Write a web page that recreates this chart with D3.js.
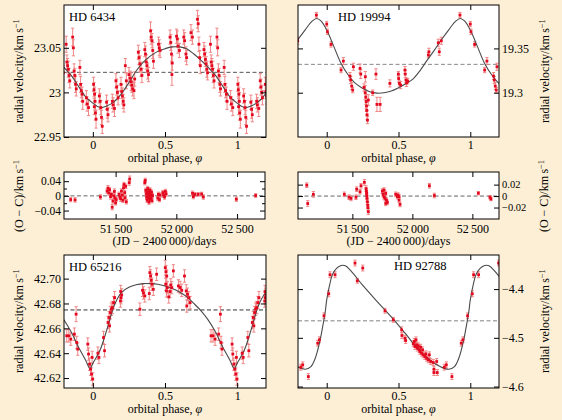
<!DOCTYPE html>
<html><head><meta charset="utf-8">
<script src="https://cdn.jsdelivr.net/npm/d3@7"></script>
<style>
body{margin:0;background:#fcefd5;}
svg{display:block;}
text{font-family:"Liberation Serif","DejaVu Serif",serif;}
</style>
</head><body>
<svg id="c" width="562" height="420"></svg>
<script>
// ---------------- DATA ----------------
const phaseTicks = [0, 0.5, 1];
const jdTicks = [51500, 52000, 52500];

// [phase, rv (km/s), error]
const hd6434 = [
[0.005,23.009,0.008],[0.008,23.003,0.008],[0.012,22.998,0.008],[0.015,22.990,0.01],[0.010,22.984,0.009],[0.018,22.977,0.008],[0.022,22.970,0.01],
[0.045,22.996,0.008],[0.050,22.990,0.009],[0.055,22.983,0.008],[0.060,22.972,0.008],[0.065,22.962,0.008],
[0.095,22.989,0.008],[0.100,22.981,0.01],[0.105,22.975,0.008],
[0.135,22.990,0.008],[0.140,22.986,0.008],[0.150,22.982,0.009],
[0.160,23.013,0.008],[0.165,23.006,0.009],[0.170,23.000,0.008],[0.175,22.994,0.008],
[0.195,23.009,0.008],[0.200,23.001,0.008],[0.205,22.996,0.009],[0.210,22.990,0.008],[0.215,22.986,0.008],
[0.225,23.030,0.008],[0.232,23.013,0.009],
[0.250,23.020,0.008],[0.258,23.016,0.008],[0.265,23.012,0.01],[0.270,23.008,0.008],[0.276,23.004,0.008],[0.285,23.002,0.009],[0.290,23.015,0.008],
[0.315,23.045,0.008],[0.320,23.039,0.008],[0.326,23.032,0.009],[0.334,23.026,0.008],[0.340,23.019,0.008],
[0.360,23.048,0.008],[0.365,23.043,0.009],[0.370,23.034,0.008],[0.375,23.030,0.008],[0.380,23.024,0.009],[0.386,23.020,0.008],
[0.400,23.069,0.01],[0.404,23.062,0.008],[0.410,23.058,0.008],[0.415,23.047,0.009],[0.420,23.035,0.008],
[0.455,23.054,0.008],[0.460,23.050,0.009],[0.466,23.047,0.008],
[0.535,23.062,0.008],[0.540,23.056,0.009],[0.545,23.043,0.008],[0.550,23.033,0.008],[0.548,23.020,0.012],
[0.580,23.063,0.008],[0.585,23.060,0.009],[0.590,23.052,0.008],[0.600,23.047,0.008],
[0.630,23.062,0.008],[0.636,23.058,0.009],[0.645,23.043,0.008],[0.650,23.039,0.008],
[0.680,23.067,0.009],[0.690,23.062,0.008],
[0.725,23.082,0.01],[0.730,23.077,0.009],[0.735,23.054,0.008],[0.740,23.039,0.008],[0.745,23.030,0.009],
[0.770,23.048,0.008],[0.775,23.043,0.009],[0.780,23.037,0.008],[0.785,23.032,0.008],[0.790,23.026,0.009],[0.795,23.022,0.008],
[0.815,23.054,0.009],[0.820,23.034,0.008],[0.825,23.030,0.008],[0.830,23.026,0.009],[0.835,23.019,0.008],[0.840,23.013,0.008],
[0.860,23.062,0.01],[0.865,23.050,0.009],[0.870,23.024,0.008],[0.875,23.019,0.008],[0.880,23.009,0.009],[0.885,23.004,0.008],
[0.910,23.028,0.008],[0.915,23.009,0.009],[0.920,23.002,0.008],[0.925,22.998,0.008],[0.930,22.990,0.009],
[0.955,22.994,0.008],[0.960,22.987,0.008],[0.970,22.983,0.009]
];
const hd6434Fit = [
[0.00,22.988],[0.05,22.983],[0.10,22.985],[0.15,22.990],[0.20,22.999],[0.25,23.011],[0.30,23.024],[0.35,23.034],
[0.40,23.041],[0.45,23.046],[0.50,23.049],[0.55,23.051],[0.60,23.051],[0.65,23.049],[0.70,23.043],[0.75,23.036],
[0.80,23.028],[0.85,23.019],[0.90,23.007],[0.95,22.995]
];
const hd6434Gamma = 23.0225;

const hd19994 = [
[0.928,19.3876,0.003],[0.000,19.3775,0.003],[0.005,19.3688,0.003],[0.030,19.3545,0.003],
[0.100,19.3256,0.003],[0.116,19.3357,0.004],[0.162,19.3188,0.004],[0.167,19.3143,0.004],
[0.174,19.3075,0.004],[0.181,19.3030,0.003],[0.186,19.3293,0.004],
[0.232,19.3274,0.005],[0.237,19.3210,0.005],[0.260,19.3060,0.004],[0.269,19.3180,0.006],
[0.268,19.3000,0.008],[0.272,19.2950,0.008],[0.275,19.2900,0.008],[0.277,19.2850,0.006],[0.279,19.2800,0.005],
[0.281,19.2750,0.005],[0.284,19.2690,0.004],[0.290,19.2917,0.006],
[0.320,19.3000,0.003],[0.343,19.3210,0.006],[0.350,19.2868,0.008],[0.372,19.2868,0.008],
[0.440,19.3105,0.004],[0.499,19.3210,0.003],[0.501,19.3160,0.004],[0.506,19.3105,0.003],[0.515,19.3086,0.004],
[0.545,19.3256,0.004],[0.547,19.3210,0.004],[0.552,19.3143,0.003],[0.556,19.3110,0.004],[0.564,19.3131,0.003],
[0.708,19.3425,0.003],[0.712,19.3462,0.004],[0.777,19.3564,0.004],[0.784,19.3462,0.004],[0.798,19.3586,0.004]
];
const hd19994Fit = [
[0.00,19.3707],[0.05,19.352],[0.10,19.333],[0.15,19.320],[0.20,19.3105],[0.25,19.305],[0.30,19.301],[0.35,19.2995],
[0.40,19.300],[0.45,19.302],[0.50,19.3056],[0.55,19.310],[0.60,19.3154],[0.65,19.325],[0.70,19.3368],[0.75,19.348],
[0.80,19.360],[0.85,19.371],[0.90,19.381],[0.93,19.3838],[0.96,19.381]
];
const hd19994Gamma = 19.332;

const hd65216 = [
[0.977,42.6312,0.005],[0.984,42.6272,0.005],[0.991,42.6232,0.005],[0.999,42.6192,0.005],[0.995,42.6366,0.005],
[0.965,42.6473,0.005],[0.970,42.6393,0.005],[0.035,42.640,0.005],[0.042,42.6366,0.005],[0.074,42.6526,0.005],
[0.081,42.642,0.005],[0.105,42.6647,0.005],[0.112,42.6687,0.005],[0.116,42.662,0.005],[0.121,42.6727,0.005],
[0.128,42.6754,0.005],[0.135,42.6767,0.005],[0.144,42.6807,0.005],[0.151,42.6847,0.005],[0.191,42.682,0.005],
[0.195,42.6847,0.005],[0.200,42.6869,0.005],[0.193,42.6896,0.005],[0.326,42.6754,0.005],[0.344,42.6906,0.005],
[0.351,42.6885,0.005],[0.360,42.6861,0.005],[0.395,42.7048,0.005],[0.400,42.7021,0.005],[0.405,42.6987,0.005],
[0.409,42.6955,0.005],[0.391,42.688,0.005],[0.419,42.6914,0.005],[0.442,42.7035,0.005],[0.502,42.7088,0.006],
[0.507,42.7056,0.005],[0.512,42.7021,0.005],[0.505,42.6955,0.005],[0.516,42.6928,0.005],[0.510,42.6901,0.005],
[0.526,42.6853,0.005],[0.540,42.6949,0.005],[0.547,42.6928,0.005],[0.535,42.6896,0.005],[0.558,42.7062,0.005],
[0.593,42.6941,0.005],[0.605,42.6928,0.005],[0.616,42.6906,0.005],[0.635,42.7021,0.005],[0.647,42.6901,0.005],
[0.656,42.6874,0.005],[0.665,42.6847,0.005],[0.674,42.6807,0.005],[0.651,42.678,0.005],[0.819,42.654,0.005],
[0.833,42.654,0.005],[0.847,42.6513,0.005],[0.872,42.6553,0.005],[0.884,42.6714,0.006],[0.888,42.6486,0.005],
[0.895,42.6433,0.005]
];
const hd65216Fit = [
[0.00,42.6318],[0.05,42.6425],[0.10,42.6600],[0.15,42.6790],[0.20,42.6890],[0.25,42.6930],[0.30,42.6950],
[0.35,42.6960],[0.40,42.6960],[0.45,42.6955],[0.50,42.6941],[0.55,42.6920],[0.60,42.6893],[0.65,42.6855],
[0.70,42.6800],[0.75,42.6740],[0.80,42.6666],[0.85,42.6570],[0.90,42.6450],[0.95,42.6344],[0.98,42.6277]
];
const hd65216Gamma = 42.6748;

const hd92788 = [
[0.819,-4.5603,0.006],[0.833,-4.5555,0.006],[0.872,-4.5795,0.006],[0.937,-4.511,0.006],[0.949,-4.504,0.006],
[0.981,-4.4548,0.006],[0.014,-4.4096,0.006],[0.023,-4.3705,0.006],[0.058,-4.3705,0.006],[0.197,-4.3466,0.006],
[0.213,-4.3829,0.005],[0.251,-4.3568,0.006],[0.406,-4.4445,0.005],[0.464,-4.463,0.005],[0.522,-4.4836,0.006],
[0.524,-4.4952,0.006],[0.545,-4.5007,0.006],[0.550,-4.5055,0.006],
[0.603,-4.5123,0.006],[0.610,-4.5075,0.006],[0.615,-4.5178,0.006],[0.622,-4.5041,0.006],[0.626,-4.5144,0.006],
[0.631,-4.5212,0.006],[0.638,-4.5164,0.006],[0.645,-4.5247,0.006],[0.650,-4.5281,0.006],[0.654,-4.5192,0.006],
[0.661,-4.5315,0.006],[0.668,-4.5247,0.006],[0.673,-4.5349,0.006],[0.684,-4.5384,0.006],[0.691,-4.5329,0.006],
[0.696,-4.5418,0.006],[0.708,-4.5452,0.006],[0.715,-4.5349,0.006],[0.724,-4.5486,0.006],[0.742,-4.5507,0.006],
[0.747,-4.5644,0.006],[0.747,-4.5713,0.006],[0.766,-4.5486,0.006],[0.770,-4.5713,0.006]
];
const hd92788Fit = [
[0.00,-4.422],[0.02,-4.392],[0.04,-4.370],[0.07,-4.357],[0.10,-4.3515],[0.13,-4.352],[0.17,-4.363],[0.25,-4.392],
[0.35,-4.425],[0.45,-4.457],[0.55,-4.492],[0.65,-4.528],[0.72,-4.546],[0.79,-4.559],[0.85,-4.5645],[0.89,-4.559],
[0.92,-4.542],[0.95,-4.510],[0.97,-4.480],[0.99,-4.446]
];
const hd92788Gamma = -4.465;

// residuals: [JD-2400000, O-C (km/s), error]
const hd6434Res = [
[51130,-0.010,0.006],[51166,-0.011,0.006],[51375,-0.003,0.006],
[51430,0.013,0.006],[51437,0.021,0.007],[51444,0.008,0.006],[51450,0.017,0.006],[51458,-0.002,0.007],[51465,0.004,0.006],
[51472,-0.031,0.007],[51478,-0.014,0.006],[51486,0.000,0.006],[51490,0.012,0.007],[51495,-0.006,0.006],[51500,-0.019,0.006],[51505,-0.010,0.006],
[51528,0.004,0.006],[51535,-0.003,0.006],[51541,-0.008,0.007],[51548,0.013,0.006],[51555,0.002,0.006],[51560,-0.012,0.006],
[51565,0.022,0.007],[51569,0.031,0.006],[51575,0.009,0.006],[51578,-0.005,0.006],[51583,0.026,0.006],[51588,-0.016,0.006],
[51612,0.036,0.007],[51616,0.046,0.008],[51740,0.036,0.006],[51744,0.042,0.006],
[51748,0.015,0.006],[51752,0.005,0.006],[51755,-0.004,0.006],[51758,0.010,0.007],[51760,-0.012,0.006],[51764,0.020,0.006],
[51766,0.002,0.006],[51770,-0.007,0.006],[51772,0.012,0.006],[51775,-0.017,0.006],[51778,0.006,0.006],[51780,-0.002,0.007],
[51783,0.016,0.006],[51786,-0.010,0.006],[51790,0.003,0.006],[51793,-0.005,0.006],[51796,0.010,0.006],[51800,-0.013,0.006],[51804,0.001,0.006],
[51847,-0.006,0.006],[51852,0.004,0.006],[51861,-0.010,0.006],[51866,0.002,0.006],
[51889,0.009,0.006],[51895,0.002,0.006],[51903,-0.003,0.006],[51910,0.012,0.006],[51916,0.005,0.006],
[52133,0.007,0.006],[52140,-0.002,0.006],[52153,0.004,0.005],[52180,0.004,0.005],[52208,0.005,0.005],[52222,-0.003,0.006],
[52494,-0.009,0.006],[52653,0.001,0.005]
];
const hd19994Res = [
[51120,0.019,0.004],[51128,-0.013,0.005],[51175,0.003,0.005],
[51433,0.003,0.004],[51472,-0.002,0.004],[51489,-0.004,0.004],[51530,-0.002,0.004],[51536,0.012,0.004],[51564,0.0075,0.004],
[51572,0.018,0.004],[51600,0.024,0.005],
[51614,0.013,0.005],[51617,0.0087,0.005],[51619,0.0046,0.005],[51620,0.0006,0.005],[51622,-0.0041,0.005],[51625,-0.0099,0.005],
[51628,-0.0157,0.005],[51630,-0.0203,0.005],[51633,-0.0273,0.005],
[51750,0.0087,0.004],[51756,0.0029,0.004],[51764,-0.0012,0.004],[51764,0.0104,0.004],[51772,-0.004,0.004],[51778,0.0046,0.004],
[51778,-0.0128,0.004],[51784,-0.007,0.004],[51792,-0.011,0.004],
[51861,0.003,0.004],[51875,-0.001,0.004],[51880,0.0017,0.004],[51889,-0.001,0.004],[51889,-0.007,0.004],[51897,-0.0145,0.004],
[52142,0.018,0.004],[52183,0.001,0.004],[52550,0.005,0.003],[52647,-0.002,0.003],[52655,-0.005,0.003]
];

// ---------------- DRAWING ----------------
const svg = d3.select("#c");
const FONT = '"Liberation Serif","DejaVu Serif",serif';
const PT = "#e4081f", EB = "#f08585";
let clipN = 0;

function drawPanel(o){
  const x = d3.scaleLinear(o.xDomain, [o.x0, o.x1]);
  const y = d3.scaleLinear(o.yDomain, [o.y1, o.y0]);
  const g = svg.append("g");
  g.append("rect").attr("x",o.x0).attr("y",o.y0).attr("width",o.x1-o.x0).attr("height",o.y1-o.y0).attr("fill","#fff");
  const id = "clip"+(clipN++);
  svg.append("clipPath").attr("id",id).append("rect")
    .attr("x",o.x0).attr("y",o.y0).attr("width",o.x1-o.x0).attr("height",o.y1-o.y0);
  const inner = g.append("g").attr("clip-path",`url(#${id})`);

  inner.append("line").attr("x1",o.x0).attr("x2",o.x1)
    .attr("y1",y(o.gamma)).attr("y2",y(o.gamma))
    .attr("stroke",o.gammaColor||"#444").attr("stroke-width",o.gammaWidth||1)
    .attr("stroke-dasharray",o.gammaDash||"4,2.5");

  let pts = o.data;
  if (o.phase) {
    pts = [];
    for (const s of [-1,0,1]) o.data.forEach(d => {
      const p = d[0]+s;
      if (p >= o.xDomain[0]-0.01 && p <= o.xDomain[1]+0.01) pts.push([p,d[1],d[2]]);
    });
  }
  const eb = inner.append("g").attr("stroke",EB).attr("stroke-width",1);
  pts.forEach(d=>{
    const cx = x(d[0]), yt = y(d[1]+d[2]), yb = y(d[1]-d[2]);
    eb.append("line").attr("x1",cx).attr("x2",cx).attr("y1",yt).attr("y2",yb);
    eb.append("line").attr("x1",cx-1.6).attr("x2",cx+1.6).attr("y1",yt).attr("y2",yt);
    eb.append("line").attr("x1",cx-1.6).attr("x2",cx+1.6).attr("y1",yb).attr("y2",yb);
  });

  if (o.fit) {
    const ext = [];
    for (const s of [-1,0,1]) o.fit.forEach(d => ext.push([d[0]+s,d[1]]));
    inner.append("path").datum(ext)
      .attr("d", d3.line().x(d=>x(d[0])).y(d=>y(d[1])).curve(d3.curveCatmullRom.alpha(0.5)))
      .attr("fill","none").attr("stroke","#4a4a4a").attr("stroke-width",1.1);
  }

  inner.append("g").selectAll("rect").data(pts).join("rect")
    .attr("x",d=>x(d[0])-1.4).attr("y",d=>y(d[1])-1.4).attr("width",2.8).attr("height",2.8)
    .attr("fill",PT);

  const style = fs => sel => { sel.select(".domain").remove(); sel.attr("font-family",FONT).attr("font-size",fs); sel.selectAll("text").attr("fill","#000"); };
  const yfs = o.yFont || 12;
  g.append("g").attr("transform",`translate(0,${o.y1})`)
    .call(d3.axisBottom(x).tickValues(o.xTicks).tickSize(-5).tickPadding(o.xPad||3).tickFormat(o.xFmt)).call(style(12));
  g.append("g").attr("transform",`translate(0,${o.y0})`)
    .call(d3.axisTop(x).tickValues(o.xTicks).tickSize(-5).tickFormat("")).call(style(12));
  const lab = o.side === "left" ? d3.axisLeft : d3.axisRight;
  const oth = o.side === "left" ? d3.axisRight : d3.axisLeft;
  const labX = o.side === "left" ? o.x0 : o.x1, othX = o.side === "left" ? o.x1 : o.x0;
  g.append("g").attr("transform",`translate(${labX},0)`)
    .call(lab(y).tickValues(o.yTicks).tickSize(-5).tickPadding(3).tickFormat(o.yFmt)).call(style(yfs));
  g.append("g").attr("transform",`translate(${othX},0)`)
    .call(oth(y).tickValues(o.yTicks).tickSize(-5).tickFormat("")).call(style(yfs));
  if (o.yMinor) {
    g.append("g").attr("transform",`translate(${labX},0)`)
      .call(lab(y).tickValues(o.yMinor).tickSize(-3).tickFormat("")).call(style(yfs));
    g.append("g").attr("transform",`translate(${othX},0)`)
      .call(oth(y).tickValues(o.yMinor).tickSize(-3).tickFormat("")).call(style(yfs));
  }

  g.append("rect").attr("x",o.x0).attr("y",o.y0).attr("width",o.x1-o.x0).attr("height",o.y1-o.y0)
    .attr("fill","none").attr("stroke","#000").attr("stroke-width",1);

  if (o.title) g.append("text").attr("x",o.titleX).attr("y",o.titleY).attr("font-size",12.5)
    .attr("font-family",FONT).text(o.title);
  return {x,y};
}

function xTitle(cx, cy, kind){
  const t = svg.append("text").attr("x",cx).attr("y",cy).attr("text-anchor","middle")
    .attr("font-size",12).attr("font-family",FONT);
  if (kind === "phase") { t.append("tspan").text("orbital phase, "); t.append("tspan").attr("font-style","italic").text("φ"); }
  else t.text("(JD − 2400\u2009000)/days");
}
function yTitle(bx, cy, main){
  const t = svg.append("text").attr("transform",`translate(${bx},${cy}) rotate(-90)`)
    .attr("text-anchor","middle").attr("font-size",12).attr("font-family",FONT);
  t.append("tspan").text(main + "/km\u2009s");
  t.append("tspan").attr("dy",-4).attr("font-size",8.5).text("−1");
}

const fmt = d => d3.format("")(d).replace("-","−");
const fmt2 = d => d3.format(".2f")(d);
const fmtPh = d => String(d);
const fmtJD = d => String(d).slice(0,2) + "\u2009" + String(d).slice(2);
const fmtRes = d => (d === 0 ? "0" : String(d)).replace("-","−");

drawPanel({x0:64,x1:266,y0:5,y1:137,xDomain:[-0.2,1.2],yDomain:[22.95,23.098],phase:true,
  data:hd6434,fit:hd6434Fit,gamma:hd6434Gamma,gammaColor:"#555",gammaDash:"4,2.5",
  xTicks:phaseTicks,xFmt:fmtPh,yTicks:[22.95,23,23.05],yFmt:fmt,side:"left",
  title:"HD 6434",titleX:69,titleY:21});
drawPanel({x0:298,x1:499,y0:5,y1:137,xDomain:[-0.2,1.2],yDomain:[19.25,19.399],phase:true,
  data:hd19994,fit:hd19994Fit,gamma:hd19994Gamma,gammaColor:"#888",gammaDash:"4,2.5",
  xTicks:phaseTicks,xFmt:fmtPh,yTicks:[19.3,19.35],yFmt:fmt,side:"right",
  title:"HD 19994",titleX:338,titleY:21});
drawPanel({x0:64,x1:265,y0:172,y1:219,xDomain:[51075,52730],yDomain:[-0.063,0.065],phase:false,
  data:hd6434Res,gamma:0,gammaColor:"#666",gammaDash:"4,2.5",
  xTicks:jdTicks,xFmt:fmtJD,xPad:5,yTicks:[-0.04,0,0.04],yMinor:[-0.02,0.02],yFmt:fmtRes,yFont:11.5,side:"left"});
drawPanel({x0:298,x1:499,y0:172,y1:219,xDomain:[51047,52722],yDomain:[-0.04,0.042],phase:false,
  data:hd19994Res,gamma:0,gammaColor:"#666",gammaDash:"4,2.5",
  xTicks:jdTicks,xFmt:fmtJD,xPad:5,yTicks:[-0.02,0,0.02],yFmt:fmtRes,yFont:10.5,side:"right"});
drawPanel({x0:64,x1:266,y0:255,y1:388,xDomain:[-0.2,1.2],yDomain:[42.612,42.719],phase:true,
  data:hd65216,fit:hd65216Fit,gamma:hd65216Gamma,gammaColor:"#333",gammaDash:"4,2.5",
  xTicks:phaseTicks,xFmt:fmtPh,yTicks:[42.62,42.64,42.66,42.68,42.70],yFmt:fmt2,side:"left",
  title:"HD 65216",titleX:69,titleY:271});
drawPanel({x0:298,x1:499,y0:255,y1:388,xDomain:[-0.2,1.2],yDomain:[-4.603,-4.33],phase:true,
  data:hd92788,fit:hd92788Fit,gamma:hd92788Gamma,gammaColor:"#aaa",gammaWidth:1.5,gammaDash:"4,2.5",
  xTicks:phaseTicks,xFmt:fmtPh,yTicks:[-4.6,-4.5,-4.4],yFmt:fmt,side:"right",
  title:"HD 92788",titleX:394,titleY:270});

xTitle(165,162,"phase"); xTitle(398.5,162,"phase");
xTitle(164.5,245,"jd"); xTitle(398.5,245,"jd");
xTitle(165,413,"phase"); xTitle(398.5,413,"phase");
yTitle(23,71,"radial velocity"); yTitle(549,71,"radial velocity");
yTitle(23,196,"(O − C)"); yTitle(548,196,"(O − C)");
yTitle(23,321,"radial velocity"); yTitle(549,321,"radial velocity");
</script>
</body></html>
